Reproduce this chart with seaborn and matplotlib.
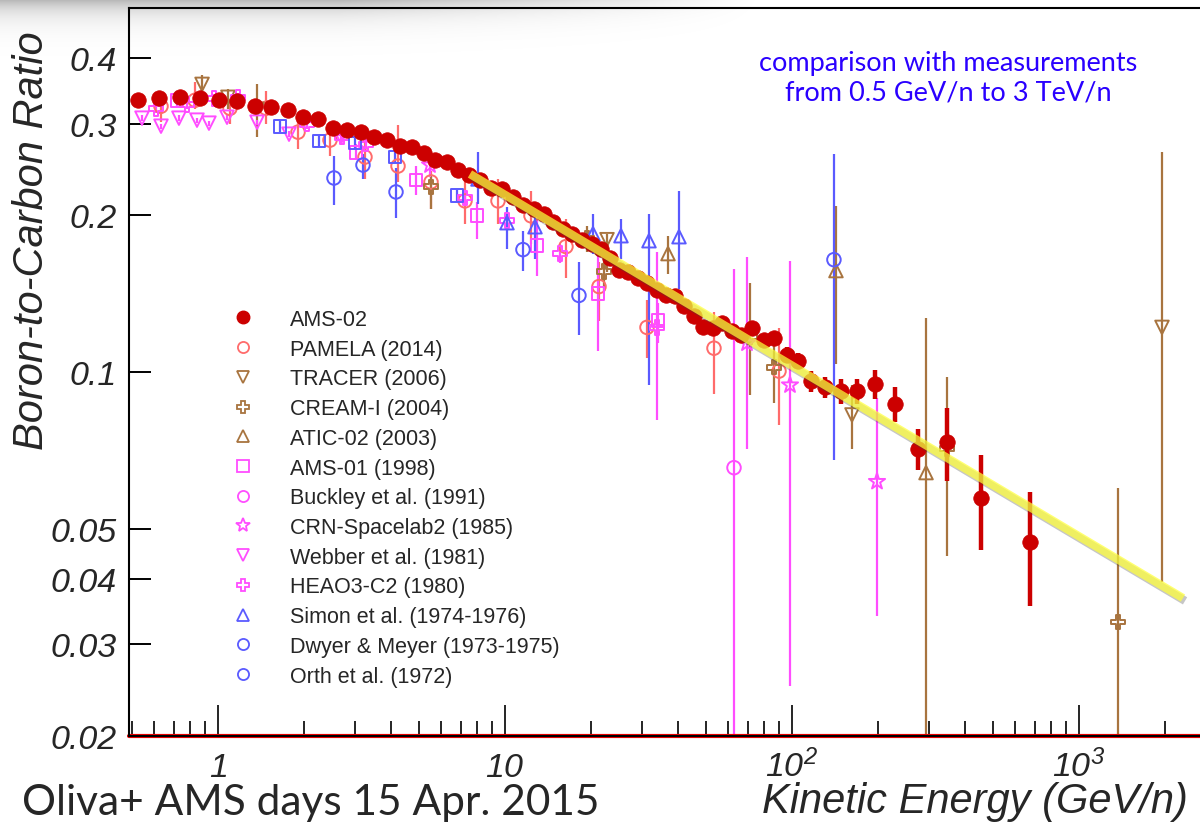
import numpy as np
import matplotlib
matplotlib.use("Agg")
import matplotlib.pyplot as plt
import seaborn as sns
from matplotlib.lines import Line2D
from matplotlib.ticker import LogLocator, NullLocator, FixedLocator, NullFormatter
import matplotlib.patheffects as pe

# ---------------- data (kinetic energy GeV/n, B/C ratio) ----------------
ams_E = [0.526, 0.623, 0.737, 0.866, 1.008, 1.165, 1.346, 1.530, 1.754, 1.978, 2.231, 2.516,
         2.815, 3.150, 3.496, 3.880, 4.307, 4.742, 5.223, 5.703, 6.281, 6.859, 7.49, 8.18,
         8.94, 9.76, 10.66, 11.55, 12.62, 13.67, 14.70, 15.93, 17.12, 18.55, 20.10, 21.60,
         23.22, 24.96, 26.83, 29.07, 31.24, 33.85, 36.39, 39.11, 42.04, 45.55, 48.96, 53.05,
         57.02, 61.78, 66.43, 72.55, 79.89, 86.55, 96.07, 104.9, 116.5, 130.3, 148.2, 168.5,
         194.6, 228.5, 274.8, 346.8, 455.5, 675.1]
ams_R = [0.3325, 0.3354, 0.3369, 0.3354, 0.3325, 0.3310, 0.3238, 0.3223, 0.3181, 0.3085, 0.3058, 0.2939,
         0.2913, 0.2888, 0.2825, 0.2788, 0.2715, 0.2704, 0.2633, 0.2553, 0.2531, 0.2443, 0.2390, 0.2338,
         0.2257, 0.2247, 0.2169, 0.2094, 0.2058, 0.2013, 0.1944, 0.1884, 0.1843, 0.1795, 0.1764, 0.1725,
         0.1658, 0.1573, 0.1559, 0.1512, 0.1479, 0.1440, 0.1403, 0.1397, 0.1336, 0.1279, 0.1218, 0.1213,
         0.1240, 0.1197, 0.1176, 0.1213, 0.1150, 0.1160, 0.1077, 0.1049, 0.0960, 0.0935, 0.0919, 0.0919,
         0.0948, 0.0868, 0.0712, 0.0735, 0.0574, 0.0471]
ams_err = [0.001, 0.001, 0.001, 0.001, 0.001, 0.001, 0.001, 0.001, 0.001, 0.001, 0.001, 0.001,
           0.001, 0.001, 0.001, 0.001, 0.001, 0.001, 0.001, 0.001, 0.001, 0.001, 0.001, 0.001,
           0.001, 0.001, 0.001, 0.001, 0.001, 0.001, 0.001, 0.001, 0.001, 0.001, 0.001, 0.001,
           0.0022, 0.0020, 0.0020, 0.0020, 0.0019, 0.0019, 0.0018, 0.0018, 0.0017, 0.0017, 0.0030, 0.0030,
           0.0031, 0.0030, 0.0029, 0.0030, 0.0029, 0.0029, 0.0038, 0.0037, 0.0043, 0.0042, 0.0050, 0.0050,
           0.0059, 0.0068, 0.0064, 0.0118, 0.0118, 0.0116]

pam_E = [0.633, 0.832, 1.101, 1.470, 1.900, 2.456, 3.252, 4.239, 5.523, 7.254, 9.454, 12.32, 16.31, 21.26, 31.24, 53.48, 90.1]
pam_R = [0.3238, 0.3325, 0.3209, 0.3209, 0.2888, 0.2788, 0.2587, 0.2486, 0.2317, 0.2131, 0.2131, 0.1995, 0.1741, 0.1459, 0.1218, 0.1111, 0.1004]
pam_hi = [0.3443, 0.3599, 0.3340, 0.3459, 0.3085, 0.2965, 0.2763, 0.2979, 0.2432, 0.2379, 0.2348, 0.2227, 0.1969, 0.1629, 0.1372, 0.1302, 0.1213]
pam_lo = [0.3018, 0.3195, 0.2992, 0.2992, 0.2680, 0.2598, 0.2348, 0.2317, 0.2058, 0.1927, 0.1927, 0.1764, 0.1512, 0.1251, 0.1063, 0.0907, 0.0792]

tr_E = [0.880, 1.083, 1.368, 22.67, 161.8, 1946]
tr_R = [0.3567, 0.3369, 0.3195, 0.1795, 0.0827, 0.1218]
tr_hi = [0.3712, 0.3489, 0.3567, 0.1843, 0.0944, 0.2644]
tr_lo = [0.3413, 0.3195, 0.2825, 0.1559, 0.0712, 0.0396]

cr_E = [5.523, 19.31, 22.13, 71.4, 86.55, 346.8, 1367]
cr_R = [0.2267, 0.1803, 0.1559, 0.1171, 0.1022, 0.0712, 0.0331]
cr_hi = [0.2379, 0.1910, 0.1673, 0.1479, 0.1187, 0.0978, 0.0600]
cr_lo = [0.2058, 0.1702, 0.1428, 0.0903, 0.0872, 0.0443, 0.0150]

at_E = [36.98, 142.3, 293.1]
at_R = [0.1688, 0.1566, 0.0641]
at_hi = [0.1827, 0.2085, 0.1267]
at_lo = [0.1545, 0.1035, 0.0150]

a1_E = [0.720, 3.026, 4.897, 7.988, 12.93, 21.09, 34.13]
a1_R = [0.3325, 0.2644, 0.2338, 0.1995, 0.1748, 0.1415, 0.1256]
a1_hi = [0.3413, 0.2739, 0.2486, 0.2122, 0.1969, 0.1673, 0.1354]
a1_lo = [0.3238, 0.2564, 0.2188, 0.1803, 0.1531, 0.1096, 0.1136]

bu_E = [62.8]
bu_R = [0.0655]
bu_hi = [0.1579]
bu_lo = [0.0150]

crn_E = [5.479, 69.7, 98.4, 197.8]
crn_R = [0.2497, 0.1136, 0.0944, 0.0616]
crn_hi = [0.2621, 0.1665, 0.1636, 0.0891]
crn_lo = [0.2368, 0.0712, 0.0249, 0.0340]

wb_E = [0.5435, 0.633, 0.731, 0.845, 0.930, 1.075, 1.368, 1.768, 2.683]
wb_R = [0.3072, 0.2965, 0.3072, 0.3045, 0.3005, 0.3085, 0.3018, 0.2862, 0.2825]
wb_hi = [0.3110, 0.3000, 0.3110, 0.3080, 0.3040, 0.3120, 0.3050, 0.2900, 0.2860]
wb_lo = [0.3030, 0.2930, 0.3030, 0.3010, 0.2970, 0.3050, 0.2980, 0.2830, 0.2790]

he_E = [0.608, 0.780, 0.968, 1.174, 2.042, 2.704, 3.279, 7.254, 10.16, 15.54, 33.85]
he_R = [0.3209, 0.3266, 0.3354, 0.3369, 0.2992, 0.2825, 0.2739, 0.2160, 0.1952, 0.1688, 0.1218]
he_hi = [0.3280, 0.3340, 0.3420, 0.3440, 0.3060, 0.2890, 0.2800, 0.2230, 0.2020, 0.1760, 0.1702]
he_lo = [0.3140, 0.3200, 0.3290, 0.3300, 0.2930, 0.2760, 0.2680, 0.2090, 0.1890, 0.1620, 0.0809]

si_E = [8.05, 10.16, 12.72, 20.26, 25.36, 31.75, 40.39]
si_R = [0.2348, 0.1935, 0.1901, 0.1843, 0.1827, 0.1787, 0.1819]
si_hi = [0.2644, 0.2076, 0.2076, 0.2013, 0.1969, 0.2013, 0.2227]
si_lo = [0.2103, 0.1725, 0.1651, 0.1688, 0.1651, 0.0944, 0.1446]

dm_E = [2.536, 4.171, 11.55, 18.10]
dm_R = [0.2358, 0.2217, 0.1718, 0.1403]
dm_hi = [0.2598, 0.2464, 0.1868, 0.1629]
dm_lo = [0.2094, 0.1978, 0.1566, 0.1176]

or_E = [3.200, 140.0]
or_R = [0.2497, 0.1643]
or_hi = [0.2621, 0.2621]
or_lo = [0.2348, 0.0679]

bsq_E = [1.644, 2.249, 3.002, 4.138, 6.805]
bsq_R = [0.2965, 0.2776, 0.2752, 0.2587, 0.2179]
bsq_hi = [0.3045, 0.2840, 0.2820, 0.2650, 0.2240]
bsq_lo = [0.2890, 0.2710, 0.2680, 0.2520, 0.2120]

fit_E = [7.55, 2303.0]
fit_R = [0.2400, 0.0368]

y_ticks = [0.02, 0.03, 0.04, 0.05, 0.1, 0.2, 0.3, 0.4]
y_ticklabels = ["0.02", "0.03", "0.04", "0.05", "0.1", "0.2", "0.3", "0.4"]
x_ticks = [1, 10, 100, 1000]
x_ticklabels = ["$1$", "$10$", "$10^{2}$", "$10^{3}$"]

# ---------------- style ----------------
sns.set_theme(style="white")
plt.rcParams["font.family"] = ["Liberation Sans", "DejaVu Sans"]
plt.rcParams["mathtext.fontset"] = "custom"
plt.rcParams["mathtext.rm"] = "Liberation Sans:italic"
plt.rcParams["mathtext.it"] = "Liberation Sans:italic"
plt.rcParams["mathtext.default"] = "rm"

RED = "#cc0000"
SALMON = "#ff6b6b"
BROWN = "#a8743f"
MAGENTA = "#ff4dff"
BLUE = "#5a5aff"

fig = plt.figure(figsize=(12, 8.29), dpi=100)
ax = fig.add_axes([129 / 1200, 92 / 829, 1071 / 1200, 728 / 829])
ax.set_xscale("log")
ax.set_yscale("log")

open_sets = [
    ("PAMELA (2014)", pam_E, pam_R, pam_lo, pam_hi, SALMON, "o", 95),
    ("TRACER (2006)", tr_E, tr_R, tr_lo, tr_hi, BROWN, "v", 95),
    ("CREAM-I (2004)", cr_E, cr_R, cr_lo, cr_hi, BROWN, "P", 110),
    ("ATIC-02 (2003)", at_E, at_R, at_lo, at_hi, BROWN, "^", 95),
    ("AMS-01 (1998)", a1_E, a1_R, a1_lo, a1_hi, MAGENTA, "s", 85),
    ("Buckley et al. (1991)", bu_E, bu_R, bu_lo, bu_hi, MAGENTA, "o", 95),
    ("CRN-Spacelab2 (1985)", crn_E, crn_R, crn_lo, crn_hi, MAGENTA, "*", 150),
    ("Webber et al. (1981)", wb_E, wb_R, wb_lo, wb_hi, MAGENTA, "v", 95),
    ("HEAO3-C2 (1980)", he_E, he_R, he_lo, he_hi, MAGENTA, "P", 110),
    ("Simon et al. (1974-1976)", si_E, si_R, si_lo, si_hi, BLUE, "^", 95),
    ("Dwyer & Meyer (1973-1975)", dm_E, dm_R, dm_lo, dm_hi, BLUE, "o", 95),
    ("Orth et al. (1972)", or_E, or_R, or_lo, or_hi, BLUE, "o", 95),
    (None, bsq_E, bsq_R, bsq_lo, bsq_hi, BLUE, "s", 85),
]

for lab, E, R, lo, hi, col, mk, s in open_sets:
    E = np.asarray(E); R = np.asarray(R); lo = np.asarray(lo); hi = np.asarray(hi)
    ax.errorbar(E, R, yerr=[R - lo, hi - R], fmt="none", ecolor=col, elinewidth=1.6,
                capsize=0, zorder=2)
    sns.scatterplot(x=E, y=R, ax=ax, marker=mk, s=s, color=col, facecolor="none",
                    edgecolor=col, linewidth=1.4, zorder=2.5, legend=False)

aE = np.asarray(ams_E); aR = np.asarray(ams_R); aErr = np.asarray(ams_err)
ax.errorbar(aE, aR, yerr=aErr, fmt="none", ecolor=RED, elinewidth=3.2, capsize=0, zorder=3)
sns.scatterplot(x=aE, y=aR, ax=ax, marker="o", s=125, color=RED, edgecolor=RED,
                linewidth=0.5, zorder=3.5, legend=False)

sns.lineplot(x=fit_E, y=fit_R, ax=ax, color="#ffff3a", lw=6.0, alpha=0.72, zorder=5)
fit_line = ax.lines[-1]
fit_line.set_path_effects([pe.SimpleLineShadow(offset=(1.5, -2.0), shadow_color="#444444", alpha=0.3),
                           pe.Normal()])
fit_line.set_solid_capstyle("butt")

# axes limits and ticks
ax.set_xlim(0.4897, 2640)
ax.set_ylim(0.02, 0.5)
ax.yaxis.set_major_locator(FixedLocator(y_ticks))
ax.yaxis.set_minor_locator(NullLocator())
ax.set_yticklabels(y_ticklabels, fontsize=24.5, fontstyle="italic")
ax.xaxis.set_major_locator(FixedLocator(x_ticks))
ax.xaxis.set_minor_locator(LogLocator(base=10, subs=(2, 3, 4, 5, 6, 7, 8, 9), numticks=20))
ax.xaxis.set_minor_formatter(NullFormatter())
ax.set_xticklabels(x_ticklabels, fontsize=24.5)
for t in ax.get_xticklabels():
    t.set_verticalalignment("baseline")
ax.tick_params(axis="y", which="major", direction="in", length=16, width=1.4, color="black",
               pad=9, left=True, right=False)
ax.tick_params(axis="x", which="major", direction="in", length=22, width=1.2, color="black",
               pad=29, bottom=True, top=False)
ax.tick_params(axis="x", which="minor", direction="in", length=11, width=1.2, color="black",
               bottom=True, top=False)
ax.grid(False)
for side in ["left", "top", "bottom"]:
    ax.spines[side].set_color("black")
    ax.spines[side].set_linewidth(1.5)
    ax.spines[side].set_zorder(7)
ax.spines["right"].set_visible(False)
ax.axhline(0.02, color="#ee0000", lw=3.0, clip_on=False, zorder=6)

# legend
handles = [Line2D([], [], ls="none", marker="o", color=RED, mfc=RED, mec=RED, markersize=9)]
labels = ["AMS-02"]
for lab, E, R, lo, hi, col, mk, s in open_sets:
    if lab is None:
        continue
    ms = 10 if mk == "*" else 8
    handles.append(Line2D([], [], ls="none", marker=mk, color=col, mfc="none", mec=col,
                          markersize=ms, mew=1.3))
    labels.append(lab)
ax.legend(handles, labels, loc="upper left", bbox_to_anchor=(232 / 1200, 1 - 310 / 829),
          bbox_transform=fig.transFigure, frameon=False, fontsize=15.5, handlelength=1.0,
          handletextpad=1.69, borderpad=0, borderaxespad=0, labelspacing=0.405)

# texts
fig.text(32 / 1200, 1 - 241 / 829, "Boron-to-Carbon Ratio", rotation=90, ha="center", va="center",
         fontsize=30, fontstyle="italic")
fig.text(1188 / 1200, 1 - 802 / 829, "Kinetic Energy (GeV/n)", ha="right", va="center",
         fontsize=30, fontstyle="italic")
fig.text(22 / 1200, 1 - 803 / 829, "Oliva+ AMS days 15 Apr. 2015", ha="left", va="center",
         fontsize=30.5, family=["Lato", "DejaVu Sans"])
fig.text(948 / 1200, 1 - 78 / 829, "comparison with measurements\nfrom 0.5 GeV/n to 3 TeV/n",
         ha="center", va="center", fontsize=19.5, color="#2a00ff", family=["Lato", "DejaVu Sans"],
         linespacing=1.25)

# soft slide shadow along the top-left edge (decoration)
sh_ax = fig.add_axes([0, 1 - 60 / 829, 800 / 1200, 60 / 829], zorder=20)
sh_ax.axis("off")
yy, xx = np.mgrid[0:60, 0:800]
fade_x = np.clip((760.0 - xx) / 420.0, 0, 1)
alpha = 0.30 * np.exp(-yy / 13.0) * fade_x
shadow_img = np.zeros((60, 800, 4))
shadow_img[..., 3] = alpha
sh_ax.imshow(shadow_img, aspect="auto", extent=(0, 800, 60, 0), interpolation="bilinear")
sh_ax.set_xlim(0, 800)
sh_ax.set_ylim(60, 0)

fig.savefig("out.png", dpi=100)
